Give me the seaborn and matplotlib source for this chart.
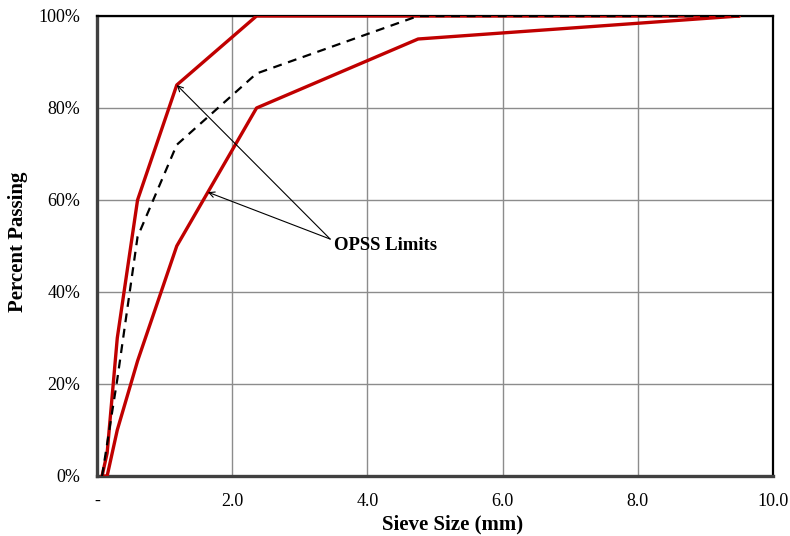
import matplotlib
matplotlib.use("Agg")
import matplotlib.pyplot as plt
import seaborn as sns
import pandas as pd
from matplotlib.ticker import FuncFormatter

sieve = [0.075, 0.15, 0.3, 0.6, 1.18, 2.36, 4.75, 9.5]
upper = [0, 5, 30, 60, 85, 100, 100, 100]
lower = [0, 0, 10, 25, 50, 80, 95, 100]
sample = [0, 7, 21, 52, 72, 87.5, 100, 100]
x_ticks = [0, 2, 4, 6, 8, 10]
x_tick_labels = ["-", "2.0", "4.0", "6.0", "8.0", "10.0"]
y_ticks = [0, 20, 40, 60, 80, 100]

sns.set_style("white")
plt.rcParams["font.family"] = ["Liberation Serif", "DejaVu Serif"]
plt.rcParams["text.color"] = "black"
plt.rcParams["xtick.color"] = "black"
plt.rcParams["ytick.color"] = "black"
plt.rcParams["axes.labelcolor"] = "black"

fig = plt.figure(figsize=(7.9, 5.36), dpi=100)
ax = fig.add_axes([97/790, 60/536, 676/790, 460/536])

df_u = pd.DataFrame({"x": sieve, "y": upper})
df_l = pd.DataFrame({"x": sieve, "y": lower})
df_s = pd.DataFrame({"x": sieve, "y": sample})

sns.lineplot(data=df_u, x="x", y="y", ax=ax, color="#C00000", linewidth=2.4, sort=False, zorder=3)
sns.lineplot(data=df_l, x="x", y="y", ax=ax, color="#C00000", linewidth=2.4, sort=False, zorder=3)
sns.lineplot(data=df_s, x="x", y="y", ax=ax, color="black", linewidth=1.6, sort=False, zorder=4,
             dashes=False, linestyle=(0, (4, 3)))

ax.set_xlim(0, 10)
ax.set_ylim(0, 100)
ax.set_xticks(x_ticks)
ax.set_xticklabels(x_tick_labels)
ax.set_yticks(y_ticks)
ax.yaxis.set_major_formatter(FuncFormatter(lambda v, p: f"{int(v)}%"))
ax.grid(True, color="#8c8c8c", linewidth=1.0)
ax.set_axisbelow(True)
ax.tick_params(axis="x", labelsize=13, length=0, pad=12)
ax.tick_params(axis="y", labelsize=13, length=0, pad=12)

for s in ["top", "right"]:
    ax.spines[s].set_color("black")
    ax.spines[s].set_linewidth(1.6)
for s in ["left", "bottom"]:
    ax.spines[s].set_color("#404040")
    ax.spines[s].set_linewidth(2.4)

ax.set_xlabel("Sieve Size (mm)", fontsize=15, fontweight="bold")
ax.set_ylabel("Percent Passing", fontsize=15, fontweight="bold")
ax.xaxis.set_label_coords((453 - 97) / 676, -(524 - 476) / 460)
ax.yaxis.set_label_coords(-(97 - 18) / 676, (476 - 242) / 460)
ax.xaxis.label.set_va("center")
ax.yaxis.label.set_va("center")

txt_xy = (3.45, 51.5)
ax.annotate("", xy=(1.18, 85), xytext=txt_xy,
            arrowprops=dict(arrowstyle="->", color="black", lw=0.8, shrinkA=0, shrinkB=0))
ax.annotate("", xy=(1.64, 61.7), xytext=txt_xy,
            arrowprops=dict(arrowstyle="->", color="black", lw=0.8, shrinkA=0, shrinkB=0))
ax.text(3.5, 50, "OPSS Limits", fontsize=13.5, fontweight="bold", ha="left", va="center")

fig.savefig("out.png", dpi=100)
